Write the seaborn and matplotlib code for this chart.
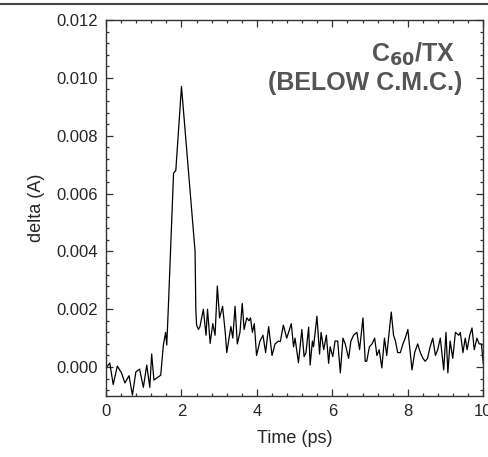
import matplotlib
matplotlib.use("Agg")
import matplotlib.pyplot as plt
from matplotlib.lines import Line2D
from matplotlib.ticker import MultipleLocator
import numpy as np
import pandas as pd
import seaborn as sns

# time axis (ps) and signal delta (A)
time_ps = [
    0.00, 0.10, 0.19, 0.30, 0.41, 0.50, 0.61, 0.70, 0.79, 0.89,
    0.99, 1.08, 1.16, 1.21, 1.27, 1.45, 1.52, 1.58, 1.61, 1.65,
    1.79, 1.85, 2.00, 2.21, 2.36, 2.38, 2.40, 2.45, 2.49, 2.58,
    2.65, 2.69, 2.76, 2.83, 2.89, 2.95, 3.01, 3.09, 3.16, 3.20,
    3.31, 3.36, 3.42, 3.48, 3.55, 3.61, 3.66, 3.73, 3.79, 3.83,
    3.88, 3.93, 3.99, 4.08, 4.16, 4.23, 4.31, 4.40, 4.48, 4.57,
    4.62, 4.70, 4.79, 4.91, 4.97, 5.01, 5.10, 5.19, 5.25, 5.30,
    5.37, 5.41, 5.47, 5.50, 5.59, 5.66, 5.70, 5.77, 5.84, 5.90,
    5.94, 6.01, 6.07, 6.14, 6.21, 6.28, 6.34, 6.43, 6.49, 6.56,
    6.65, 6.72, 6.81, 6.87, 6.91, 6.98, 7.05, 7.12, 7.18, 7.24,
    7.31, 7.38, 7.44, 7.56, 7.62, 7.67, 7.73, 7.80, 7.87, 7.93,
    8.00, 8.11, 8.18, 8.26, 8.33, 8.40, 8.46, 8.52, 8.59, 8.66,
    8.73, 8.79, 8.86, 8.95, 9.01, 9.06, 9.12, 9.19, 9.26, 9.35,
    9.39, 9.46, 9.52, 9.57, 9.64, 9.70, 9.76, 9.83, 9.89, 9.95,
    10.00,
]
delta_a = [
    -0.00003, 0.00014, -0.0006, 0.00003, -0.0002, -0.00055, -0.0003, -0.00097, -0.00017, -0.00007,
    -0.0007, 0.00007, -0.0007, 0.00045, -0.00045, -0.00028, 0.00076, 0.0012, 0.00076, 0.0020,
    0.0067, 0.0068, 0.0097, 0.0064, 0.0040, 0.0020, 0.00145, 0.0013, 0.0014, 0.0020,
    0.0011, 0.0020, 0.00082, 0.0015, 0.0011, 0.0028, 0.0017, 0.0021, 0.0012, 0.0005,
    0.0014, 0.0010, 0.0021, 0.0008, 0.0012, 0.0022, 0.0013, 0.0017, 0.0016, 0.0017,
    0.0012, 0.0015, 0.0004, 0.0009, 0.0011, 0.0005, 0.0014, 0.0004, 0.0008, 0.0009,
    0.00088, 0.00145, 0.0010, 0.0015, 0.0007, 0.0010, 0.00015, 0.0013, 0.00036, 0.0005,
    0.00138, 0.00007, 0.0009, 0.0007, 0.00176, 0.00045, 0.0012, 0.0006, 0.0011, 0.00013,
    0.0007, 0.00036, 0.0009, 0.0009, -0.0002, 0.0010, 0.0008, 0.0003, 0.0009, 0.0011,
    0.0012, 0.0006, 0.0017, 0.0002, 0.0002, 0.0007, 0.0008, 0.0010, 0.0004, 0.0006,
    -0.00003, 0.0010, 0.0004, 0.0019, 0.0011, 0.0009, 0.0005, 0.0005, 0.0008, 0.0010,
    0.0013, -0.0001, 0.0005, 0.0008, 0.0005, 0.0003, 0.0002, 0.0003, 0.0007, 0.0010,
    0.0004, 0.0006, 0.0010, -0.0001, 0.0012, -0.0002, 0.0009, 0.0003, 0.0012, 0.0011,
    0.0012, 0.0005, 0.0010, 0.0006, 0.0011, 0.00135, 0.0006, 0.0010, 0.0008, 0.0008,
    0.0001,
]

x_ticks = [0, 2, 4, 6, 8, 10]
y_ticks = [0.000, 0.002, 0.004, 0.006, 0.008, 0.010, 0.012]

sns.set_style("ticks")
plt.rcParams['font.family'] = ['Liberation Sans', 'DejaVu Sans']

df = pd.DataFrame({"time": time_ps, "delta": delta_a})

fig = plt.figure(figsize=(4.89, 4.57), dpi=100)
ax = fig.add_axes([0.2168, 0.1335, 0.7716, 0.8228])

sns.lineplot(data=df, x="time", y="delta", ax=ax, color="black",
             linewidth=0.9, estimator=None, sort=False)

ax.set_xlim(0, 10)
ax.set_ylim(-0.001, 0.012)
ax.set_xticks(x_ticks)
ax.set_xticklabels([str(v) for v in x_ticks])
ax.set_yticks(y_ticks)
ax.set_yticklabels([f"{v:.3f}" for v in y_ticks])
ax.xaxis.set_minor_locator(MultipleLocator(0.4))
ax.yaxis.set_minor_locator(MultipleLocator(0.0004))
ax.tick_params(which="both", direction="in", top=True, right=True,
               color="#333333", width=0.9)
ax.tick_params(which="major", length=5, labelsize=12, pad=6)
ax.tick_params(which="minor", length=2.5)
for s in ax.spines.values():
    s.set_color("#333333")
    s.set_linewidth(1.0)

ax.set_xlabel("Time (ps)", fontsize=13, labelpad=8)
ax.set_ylabel("delta (A)", fontsize=13, labelpad=8)

ax.text(0.925, 0.945, r"C$_{\mathbf{60}}$/TX", transform=ax.transAxes,
        ha="right", va="top", fontsize=18, fontweight="bold", color="#555555")
ax.text(0.945, 0.865, "(BELOW C.M.C.)", transform=ax.transAxes,
        ha="right", va="top", fontsize=18, fontweight="bold", color="#555555")

# thin rule across the top of the page
fig.add_artist(Line2D([0, 1], [1 - 3.5 / 457, 1 - 3.5 / 457],
                      transform=fig.transFigure, color="#444444", linewidth=1.5))

fig.savefig("out.png", dpi=100, facecolor="white")
